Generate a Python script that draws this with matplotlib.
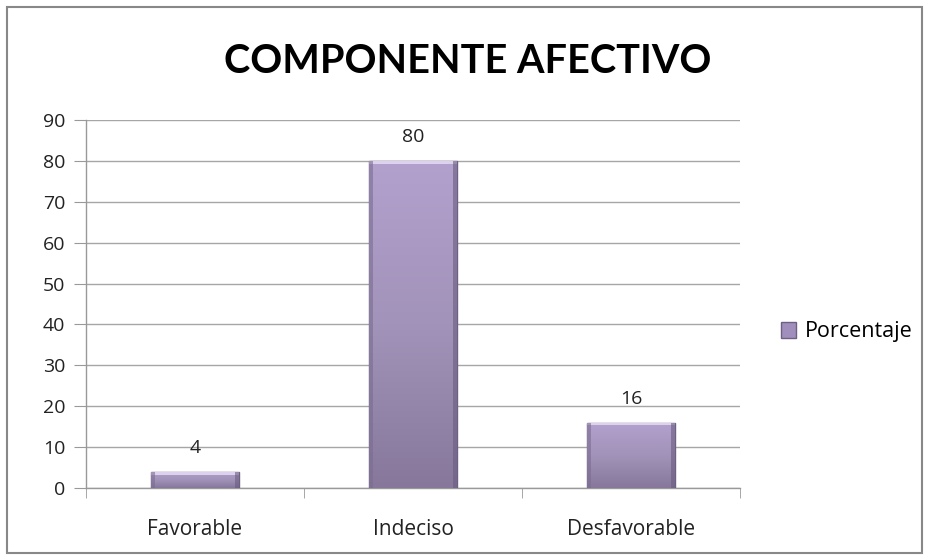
import numpy as np
import matplotlib
matplotlib.use('Agg')
import matplotlib.pyplot as plt
from matplotlib.patches import Rectangle
from matplotlib.colors import LinearSegmentedColormap

categories = ['Favorable', 'Indeciso', 'Desfavorable']
valores = [4, 80, 16]
serie = 'Porcentaje'

plt.rcParams['font.family'] = ['Open Sans', 'DejaVu Sans']

fig = plt.figure(figsize=(9.29, 5.6), dpi=100)
ax = fig.add_axes([86/929, 1-488/560, (740-86)/929, (488-120)/560])

x = np.arange(len(categories))
bars = ax.bar(x, valores, width=0.4, color='#a08fbd', edgecolor='#6e6082', linewidth=1.0,
              label=serie, zorder=3)

# degradado vertical dentro de cada barra
cmap = LinearSegmentedColormap.from_list('lila', ['#86779b', '#a293ba', '#b2a1cd'])
grad = np.linspace(0, 1, 256).reshape(-1, 1)
for i, b in enumerate(bars):
    x0, w, h = b.get_x(), b.get_width(), b.get_height()
    im = ax.imshow(grad, cmap=cmap, origin='lower', aspect='auto',
                   extent=[x0, x0 + w, 0, h], zorder=3.5)
    im.set_clip_path(b)
    # bisel claro arriba, bordes laterales oscuros
    ax.add_patch(Rectangle((x0, h - 0.7), w, 0.7, facecolor='#dcd2ee', edgecolor='none', zorder=4))
    ax.add_patch(Rectangle((x0, 0), 0.015, h, facecolor='#7a6c90', edgecolor='none', alpha=0.6, zorder=4))
    ax.add_patch(Rectangle((x0 + w - 0.015, 0), 0.015, h, facecolor='#6a5c80', edgecolor='none', alpha=0.6, zorder=4))
    ax.text(x0 + w/2, h + 4.6, str(valores[i]), ha='center', va='baseline',
            fontsize=14, color='#222222', zorder=5)

ax.set_xlim(-0.5, 2.5)
ax.set_ylim(0, 90)
ax.set_yticks(range(0, 91, 10))
ax.set_xticks(x)
ax.set_xticklabels(categories, fontsize=15, color='#222222')
ax.set_xticks([-0.5, 0.5, 1.5, 2.5], minor=True)
ax.tick_params(axis='x', which='major', length=0, pad=22)
ax.tick_params(axis='x', which='minor', length=7, color='#999999', direction='out')
ax.tick_params(axis='y', length=9, color='#999999', labelsize=14, labelcolor='#222222', pad=6)
ax.grid(axis='y', color='#a6a6a6', linewidth=1.0, zorder=0)
ax.set_axisbelow(True)
for s in ['top', 'right']:
    ax.spines[s].set_visible(False)
for s in ['left', 'bottom']:
    ax.spines[s].set_color('#999999')
    ax.spines[s].set_linewidth(1.0)

fig.text(468/929, 1-61/560, 'COMPONENTE AFECTIVO', ha='center', va='center',
         fontsize=28.5, fontweight='bold', color='#000000', family=['Lato', 'DejaVu Sans'])

leg = fig.legend(handles=[bars[0]], labels=[serie], loc='center left',
                 bbox_to_anchor=(762/929, 1-332/560), frameon=False, fontsize=15.5,
                 handlelength=0.7, handleheight=0.7, handletextpad=0.4)

fig.patches.append(Rectangle((7/929, 7/560), 915/929, 546/560, transform=fig.transFigure,
                             facecolor='none', edgecolor='#888888', linewidth=1.5))

fig.savefig('out.png', dpi=100)
